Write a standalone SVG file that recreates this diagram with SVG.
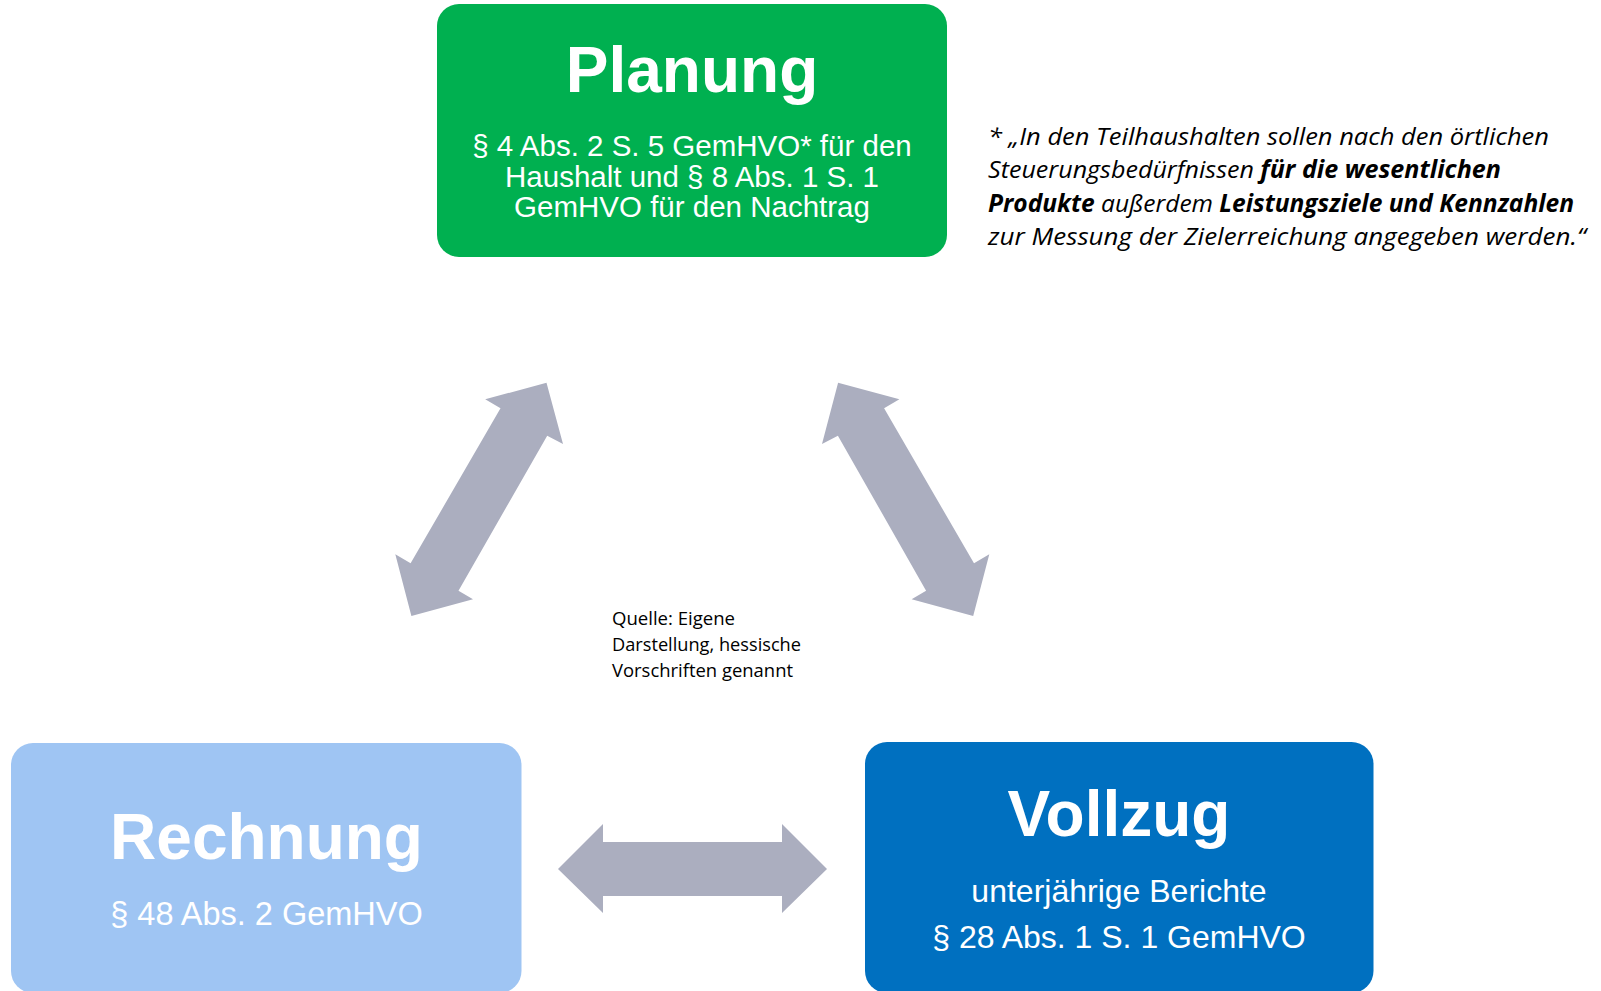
<svg xmlns="http://www.w3.org/2000/svg" width="1601" height="991" viewBox="0 0 1601 991">
<style>
.title{font-family:"Liberation Sans",Arial,sans-serif;font-weight:bold;font-size:64px;fill:#fff;text-anchor:middle}
.sub{font-family:"Liberation Sans",Arial,sans-serif;fill:#fff;text-anchor:middle}
.note{font-family:"Open Sans","Noto Sans",sans-serif;font-style:italic;font-size:24.5px;fill:#000}
.src{font-family:"Open Sans","Noto Sans",sans-serif;font-size:18px;fill:#000}
.arrow{fill:#ABAEBF}
.b{font-weight:bold}
</style>
<rect width="1601" height="991" fill="#fff"/>
<g id="connectors">
<polygon class="arrow" points="546.5,382.7 563,444 547.2,435.7 458.5,590.7 473,599.3 411.4,616 395.3,554.3 410.6,563.3 500.5,408.3 485.2,399.3"/>
<polygon class="arrow" points="838.1,382.7 822,444 837.9,435.7 926.1,590.7 911.6,599.3 973.2,616 989.3,554.3 974,563.3 884.1,408.3 899.4,399.3"/>
<polygon class="arrow" points="558,869 603,824 603,842 782,842 782,824 827,869 782,913 782,896 603,896 603,913"/>
</g>
<g id="planung">
<rect x="437" y="4" width="510" height="253" rx="22" fill="#00B050"/>
<text class="title" x="692" y="92" font-size="63">Planung</text>
<text class="sub" font-size="29.5" x="692" y="156">§ 4 Abs. 2 S. 5 GemHVO* für den</text>
<text class="sub" font-size="29.5" x="692" y="186.5">Haushalt und § 8 Abs. 1 S. 1</text>
<text class="sub" font-size="29.5" x="692" y="217">GemHVO für den Nachtrag</text>
</g>
<g id="rechnung">
<rect x="11" y="743" width="510.5" height="250" rx="22" fill="#9FC5F3"/>
<text class="title" x="266.5" y="859">Rechnung</text>
<text class="sub" font-size="32.5" x="266.5" y="925">§ 48 Abs. 2 GemHVO</text>
</g>
<g id="vollzug">
<rect x="865" y="742" width="508.5" height="251" rx="22" fill="#0070C0"/>
<text class="title" x="1119" y="836">Vollzug</text>
<text class="sub" font-size="32" x="1119" y="902">unterjährige Berichte</text>
<text class="sub" font-size="32" x="1119" y="948">§ 28 Abs. 1 S. 1 GemHVO</text>
</g>
<g id="footnote">
<text class="note" x="988" y="144.5" textLength="561" lengthAdjust="spacingAndGlyphs">* „In den Teilhaushalten sollen nach den örtlichen</text>
<text class="note" x="988" y="178" textLength="513" lengthAdjust="spacingAndGlyphs">Steuerungsbedürfnissen <tspan class="b">für die wesentlichen</tspan></text>
<text class="note" x="988" y="211.5" textLength="586" lengthAdjust="spacingAndGlyphs"><tspan class="b">Produkte</tspan> außerdem <tspan class="b">Leistungsziele und Kennzahlen</tspan></text>
<text class="note" x="988" y="245" textLength="598" lengthAdjust="spacingAndGlyphs">zur Messung der Zielerreichung angegeben werden.“</text>
</g>
<g id="quelle">
<text class="src" x="612" y="625" textLength="123" lengthAdjust="spacingAndGlyphs">Quelle: Eigene</text>
<text class="src" x="612" y="651" textLength="189" lengthAdjust="spacingAndGlyphs">Darstellung, hessische</text>
<text class="src" x="612" y="677" textLength="181" lengthAdjust="spacingAndGlyphs">Vorschriften genannt</text>
</g>
</svg>
